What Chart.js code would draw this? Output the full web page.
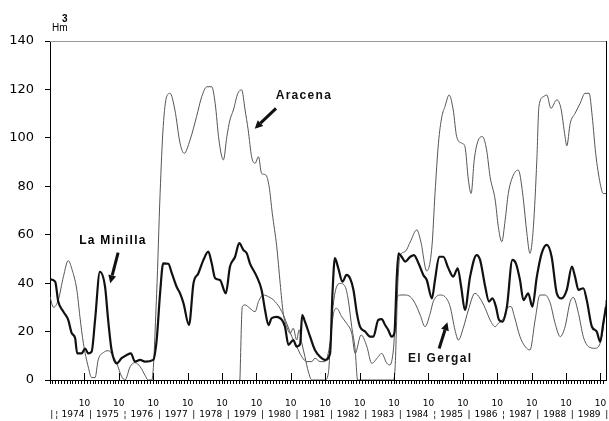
<!DOCTYPE html>
<html><head><meta charset="utf-8">
<script src="https://cdn.jsdelivr.net/npm/chart.js@4/dist/chart.umd.min.js"></script>
<style>html,body{margin:0;padding:0;background:#fff}canvas{display:block}</style>
</head><body>
<canvas id="c" width="609" height="421"></canvas>
<script>
// ---- data (decimal year, Hm3) ----
const minillaT = [1973.75,1973.90,1973.99,1974.14,1974.28,1974.38,1974.48,1974.54,1974.67,1974.77,1974.86,1974.96,1975.06,1975.20,1975.35,1975.44,1975.54,1975.69,1975.83,1975.98,1976.10,1976.22,1976.37,1976.51,1976.75,1976.85,1976.95,1977.04,1977.19,1977.29,1977.43,1977.53,1977.63,1977.79,1977.92,1978.06,1978.21,1978.35,1978.45,1978.55,1978.69,1978.86,1978.98,1979.13,1979.25,1979.37,1979.47,1979.56,1979.76,1979.90,1980.00,1980.10,1980.19,1980.34,1980.49,1980.58,1980.68,1980.82,1980.92,1981.02,1981.08,1981.16,1981.31,1981.45,1981.60,1981.74,1981.89,1981.96,1982.03,1982.13,1982.25,1982.37,1982.47,1982.57,1982.67,1982.76,1982.91,1983.05,1983.15,1983.29,1983.39,1983.49,1983.58,1983.68,1983.76,1983.83,1983.88,1983.97,1984.07,1984.22,1984.33,1984.46,1984.60,1984.70,1984.85,1984.94,1985.06,1985.18,1985.33,1985.47,1985.60,1985.70,1985.81,1985.96,1986.15,1986.25,1986.40,1986.51,1986.61,1986.71,1986.80,1986.90,1987.03,1987.19,1987.29,1987.41,1987.51,1987.65,1987.77,1987.90,1988.04,1988.19,1988.33,1988.48,1988.62,1988.77,1988.92,1989.01,1989.11,1989.25,1989.35,1989.50,1989.64,1989.74,1989.83,1989.91];
const minillaV = [41.6,40.6,32.4,28.2,24.8,19.4,17.3,11,11,13,11,11.7,24.8,44.7,38.5,24.8,12.4,6.9,9,10.3,11,7.6,8.3,7.6,8.3,16.5,35.9,48.2,48,44.1,38.5,35.8,31.7,22.7,39.9,44,49.6,53,48.2,42,41.3,35.8,46.8,50.9,56.5,53.7,52.3,48.2,42.7,37.2,28.9,22.7,25.5,26.1,24.8,22,14.5,16.5,13.8,14.9,26.8,24.1,17.9,12.4,9.6,8.3,11,35.8,50.3,46.1,40.6,43.4,42,37.2,27.5,22,20,17.9,17.9,24.8,25.1,22.7,20.7,17.9,19.4,42.7,52.3,50.9,48.9,50.9,51.6,48.2,43.4,41.3,33.7,41.3,50.9,50.9,46.1,42.7,46.1,38.5,28.9,42.7,51.6,49.6,38.5,32.4,33.7,30.3,24.8,24.1,30.3,49.6,48.2,41.3,33,35.8,30.3,42.7,52.3,55.8,50.9,35.8,33.7,37.2,46.8,42.7,37.2,37.9,33,22,20,15.8,23.4,30.3];

const aracenaT = [1973.75,1973.85,1973.99,1974.14,1974.28,1974.38,1974.53,1974.62,1974.72,1974.86,1974.96,1975.06,1975.15,1975.30,1975.44,1975.54,1975.69,1975.83,1975.93,1976.08,1976.22,1976.37,1976.51,1976.60,1976.71,1976.85,1976.95,1977.04,1977.14,1977.24,1977.38,1977.53,1977.65,1977.82,1978.01,1978.16,1978.31,1978.45,1978.55,1978.66,1978.79,1978.89,1978.98,1979.08,1979.21,1979.32,1979.42,1979.51,1979.61,1979.71,1979.81,1979.90,1980.02,1980.12,1980.21,1980.34,1980.44,1980.53,1980.63,1980.73,1980.82,1980.92,1980.99,1981.07,1981.16,1981.26,1981.36,1981.74,1981.84,1981.94,1982.03,1982.18,1982.33,1982.42,1982.52,1982.62,1982.69,1983.72,1983.78,1983.86,1983.92,1984.07,1984.22,1984.41,1984.53,1984.70,1984.85,1984.94,1985.04,1985.14,1985.23,1985.35,1985.47,1985.57,1985.72,1985.81,1985.91,1985.99,1986.08,1986.20,1986.32,1986.44,1986.54,1986.69,1986.78,1986.88,1986.98,1987.07,1987.22,1987.36,1987.41,1987.51,1987.61,1987.70,1987.80,1987.90,1987.96,1988.09,1988.19,1988.31,1988.48,1988.60,1988.72,1988.77,1988.87,1989.01,1989.16,1989.30,1989.42,1989.51,1989.61,1989.74,1989.83,1989.91];
const aracenaV = [34.4,30,33,42.7,49.3,46.1,37.2,26.1,15.2,5.5,1,1,8.3,11.3,12.1,11,6.9,1.5,0,5.5,7.2,5.5,2,0,0,35.8,77,104.6,117,118.4,111.5,97.8,93.6,99.1,108.8,117,121.1,121.1,114.3,99.1,90.9,100.5,107.4,111.5,118.4,119.8,111.5,103.3,92.2,89.5,92.2,85.3,84.7,79.8,68.9,55.1,39.9,27.5,22,19.3,21.4,16.5,20.7,15.2,9.6,3.4,0,0,2.8,24.8,35.8,39.9,38.5,33,22,12.4,0,0,5,40,51,53,57,62,57,45,55,77,97.8,108.8,112.9,117.7,111.5,100.5,97.8,96.4,82.6,77,90.9,99.1,100.5,95,84,74.3,63.3,57.1,66.1,77,84.7,86.7,84.7,74.3,60.6,52.3,63.3,90.9,112.9,117,117.7,112.2,115.7,112.2,100.5,96.7,106,110.1,114.3,118.4,118.4,108.8,93.6,81.2,77,77];

const gergalT = [1979.27,1979.34,1979.42,1979.56,1979.71,1979.81,1979.95,1980.10,1980.29,1980.49,1980.63,1980.78,1980.92,1981.07,1981.21,1981.36,1981.45,1981.60,1981.74,1981.89,1981.99,1982.08,1982.23,1982.37,1982.52,1982.62,1982.79,1982.96,1983.10,1983.29,1983.39,1983.54,1983.63,1983.73,1983.83,1983.92,1984.07,1984.22,1984.36,1984.51,1984.65,1984.80,1984.89,1985.09,1985.23,1985.38,1985.52,1985.62,1985.76,1985.91,1986.10,1986.25,1986.40,1986.54,1986.69,1986.78,1986.93,1987.03,1987.15,1987.25,1987.41,1987.56,1987.70,1987.85,1987.99,1988.14,1988.29,1988.43,1988.58,1988.72,1988.87,1988.96,1989.11,1989.25,1989.40,1989.59,1989.74,1989.88,1989.91];
const gergalV = [0,30.3,31,29.6,28.2,32.4,35.1,34.4,32.4,28.2,23.4,17.9,13.8,9.6,7.6,7.6,9,7.6,7.6,15.2,27.5,29.6,26.1,23.4,19.3,11,18.6,13.8,6.9,9.6,11,6.9,6.2,12.4,33,35.1,35.1,34.4,31.7,26.8,22,27.5,32.4,35.1,34.4,30.3,20.7,16.5,21.4,28.9,35.8,33.7,29.6,24.8,22,23.4,25.5,29.6,30.3,26.1,17.9,13.8,12.4,24.8,35.1,35.1,31.7,23.4,17.9,22,32.4,34.1,27.5,17.9,13.8,13.1,15.2,27.5,33];

const seriesNames = ['La Minilla','Aracena','El Gergal'];
const yTickValues = [0,20,40,60,80,100,120,140];
const monthTickLabel = '10';
const yearLabels = ['1974','1975','1976','1977','1978','1979','1980','1981','1982','1983','1984','1985','1986','1987','1988','1989'];
const yearSeparators = ['|','¦','|','|','|','|','|','|','|','|','¦','|','¦','|','|','|'];
const unitLabel = 'Hm';
const unitExp = '3';
const X_MIN = 1973.75, X_MAX = 1989.91;

// annotation anchors in data coordinates
const notes = [
  {text:'La Minilla', at:[1975.58,57.4], tail:[1975.73,52.6], tip:[1975.50,40.0]},
  {text:'Aracena', at:[1981.13,117.5], tail:[1980.32,112.2], tip:[1979.70,103.8]},
  {text:'El Gergal', at:[1985.09,8.7], tail:[1985.06,13.0], tip:[1985.30,23.8]}
];

const pts = (t, v) => t.map((x, i) => ({x, y: v[i]}));

const decor = {
  id: 'decor',
  afterDraw(chart) {
    const ctx = chart.ctx, a = chart.chartArea, xs = chart.scales.x, ys = chart.scales.y;
    ctx.save();
    // top and right frame
    ctx.strokeStyle = '#999'; ctx.lineWidth = 1;
    ctx.beginPath(); ctx.moveTo(a.left, a.top + 0.5); ctx.lineTo(a.right, a.top + 0.5); ctx.stroke();
    ctx.strokeStyle = '#000';
    ctx.beginPath(); ctx.moveTo(a.right + 0.5, a.top); ctx.lineTo(a.right + 0.5, a.bottom); ctx.stroke();
    // October major ticks (inward)
    for (let y = 1974; y <= 1989; y++) {
      const px = Math.round(xs.getPixelForValue(y + 0.75)) + 0.5;
      ctx.beginPath(); ctx.moveTo(px, a.bottom - 7); ctx.lineTo(px, a.bottom); ctx.stroke();
    }
    // year row
    ctx.fillStyle = '#000';
    ctx.font = '9px "DejaVu Sans"';
    ctx.textAlign = 'center'; ctx.textBaseline = 'middle';
    const rowY = a.bottom + 35;
    yearLabels.forEach((lab, i) => {
      const yr = +lab;
      ctx.fillText(lab, xs.getPixelForValue(yr + 0.42), rowY);
      ctx.fillText(yearSeparators[i], xs.getPixelForValue(yr + 0.93), rowY);
    });
    ctx.fillText('|', xs.getPixelForValue(X_MIN + 0.05), rowY);
    ctx.fillText('¦', xs.getPixelForValue(X_MIN + 0.2), rowY);
    // unit label
    ctx.textAlign = 'left'; ctx.textBaseline = 'alphabetic';
    ctx.font = '10px "Liberation Sans"';
    ctx.fillText(unitLabel, a.left + 2, a.top - 10);
    ctx.font = 'bold 10px "Liberation Sans"';
    ctx.fillText(unitExp, a.left + 12, a.top - 19);
    // annotations
    ctx.font = 'bold 12px "Liberation Sans"';
    ctx.letterSpacing = '1.3px';
    ctx.textAlign = 'center'; ctx.textBaseline = 'middle';
    notes.forEach(n => {
      ctx.fillText(n.text, xs.getPixelForValue(n.at[0]), ys.getPixelForValue(n.at[1]));
      const x0 = xs.getPixelForValue(n.tail[0]), y0 = ys.getPixelForValue(n.tail[1]);
      const x1 = xs.getPixelForValue(n.tip[0]), y1 = ys.getPixelForValue(n.tip[1]);
      const ang = Math.atan2(y1 - y0, x1 - x0);
      const hl = 8, hw = 4;
      const bx = x1 - hl * Math.cos(ang), by = y1 - hl * Math.sin(ang);
      ctx.strokeStyle = '#111'; ctx.lineWidth = 3; ctx.lineCap = 'butt';
      ctx.beginPath(); ctx.moveTo(x0, y0); ctx.lineTo(bx, by); ctx.stroke();
      ctx.fillStyle = '#111';
      ctx.beginPath();
      ctx.moveTo(x1, y1);
      ctx.lineTo(bx + hw * Math.sin(ang), by - hw * Math.cos(ang));
      ctx.lineTo(bx - hw * Math.sin(ang), by + hw * Math.cos(ang));
      ctx.closePath(); ctx.fill();
    });
    ctx.restore();
  }
};

new Chart(document.getElementById('c'), {
  type: 'line',
  data: {
    datasets: [
      {label: seriesNames[0], data: pts(minillaT, minillaV), borderColor: '#111', borderWidth: 2.2},
      {label: seriesNames[1], data: pts(aracenaT, aracenaV), borderColor: '#555', borderWidth: 1},
      {label: seriesNames[2], data: pts(gergalT, gergalV), borderColor: '#555', borderWidth: 1}
    ]
  },
  options: {
    responsive: false,
    animation: false,
    devicePixelRatio: 1,
    layout: {padding: {top: 41, right: 3, left: 0, bottom: 0}},
    elements: {point: {radius: 0}, line: {cubicInterpolationMode: 'monotone', fill: false}},
    plugins: {legend: {display: false}, tooltip: {enabled: false}},
    scales: {
      x: {
        type: 'linear', min: X_MIN, max: X_MAX,
        afterBuildTicks(scale) {
          const t = [];
          for (let i = 0; X_MIN + i / 12 <= X_MAX + 1e-9; i++) t.push({value: X_MIN + i / 12});
          scale.ticks = t;
        },
        afterFit(scale) { scale.height = 41; scale.paddingLeft = 0; scale.paddingRight = 0; },
        ticks: {
          autoSkip: false, maxRotation: 0, minRotation: 0, padding: 14,
          color: '#000', font: {family: 'DejaVu Sans', size: 9},
          callback(value) {
            const i = Math.round((value - X_MIN) * 12);
            return (i > 0 && i % 12 === 0) ? monthTickLabel : '';
          }
        },
        grid: {drawOnChartArea: false, drawTicks: true, tickLength: 4, color: '#000', lineWidth: 1},
        border: {display: true, color: '#000', width: 1}
      },
      y: {
        min: 0, max: 140,
        afterBuildTicks(scale) { scale.ticks = yTickValues.map(v => ({value: v})); },
        afterFit(scale) { scale.width = 50; },
        ticks: {color: '#000', font: {family: 'DejaVu Sans', size: 13}, padding: 11},
        grid: {drawOnChartArea: false, drawTicks: true, tickLength: 5, color: '#000', lineWidth: 1},
        border: {display: true, color: '#000', width: 1}
      }
    }
  },
  plugins: [decor]
});
</script>
</body></html>
